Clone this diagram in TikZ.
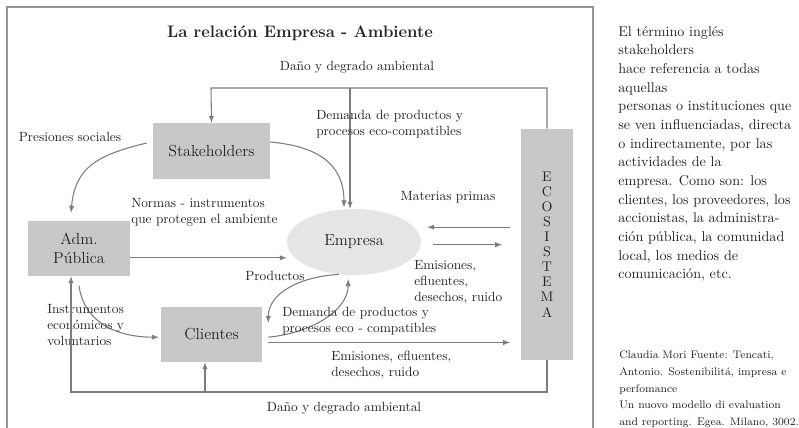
\documentclass[tikz,border=0pt]{standalone}
\usepackage{tikz}
\usetikzlibrary{shapes, arrows, positioning, calc}

\definecolor{boxgray}{RGB}{200,200,200}
\definecolor{ellgray}{RGB}{229,229,229}
\definecolor{linegray}{RGB}{125,125,125}
\definecolor{framegray}{RGB}{150,150,150}
\definecolor{inkgray}{RGB}{35,35,35}

\begin{document}
\begin{tikzpicture}[
    x=0.75pt, y=-0.75pt,
    % Styles
    block/.style={rectangle, fill=boxgray, align=center, minimum width=76.5pt, minimum height=41.25pt, inner sep=0pt, text=inkgray, font={\fontsize{12}{14}\selectfont}},
    core/.style={ellipse, fill=ellgray, minimum width=100.5pt, minimum height=49.5pt, inner sep=0pt, text=inkgray, font={\fontsize{12}{14}\selectfont}},
    wire/.style={->, >=latex, draw=linegray, line width=0.8pt},
    label_text/.style={align=left, text=inkgray, inner sep=0pt, font={\fontsize{10}{12}\selectfont}},
    note_text/.style={align=left, text=inkgray, inner sep=0pt, anchor=north west}
]
    \useasboundingbox (0,0) rectangle (799,428);

    % --- FRAME AND TITLE ---
    \draw[framegray, line width=1.1pt] (7,428) -- (7,7) -- (593,7) -- (593,428);
    \node[text=inkgray, font={\fontsize{12.5}{15}\selectfont\bfseries}] (title) at (300,33) {La relación Empresa - Ambiente};

    % --- BLOCKS ---
    \node[block, minimum width=87.75pt, minimum height=42pt] (stake) at (211.5,151) {Stakeholders};
    \node[block] (adm) at (79,248.5) {Adm.\\Pública};
    \node[block, minimum width=75.75pt] (cli) at (211.5,334.5) {Clientes};
    \node[core] (emp) at (354,242) {Empresa};
    \node[block, minimum width=39pt, minimum height=173.25pt, font={\fontsize{10.5}{11.3}\selectfont}] (eco) at (547,244.5) {E\\C\\O\\S\\I\\S\\T\\E\\M\\A};

    % --- TOP LOOP (Daño y degrado) ---
    \coordinate (topR) at (547,88);
    \coordinate (topL) at (211,88);
    \coordinate (topM) at (350,88);
    \draw[wire] (eco.north) -- (topR) -- (topL) -- (stake.north);
    \draw[wire] (topM) -- (topM |- emp.north);
    \node[label_text] (dano_top) at (357,67) {Daño y degrado ambiental};
    \node[label_text, anchor=west] (dem_top) at (316,124) {Demanda de productos y\\procesos eco-compatibles};

    % --- STAKEHOLDERS ---
    \draw[wire] ([yshift=6.75pt]stake.east) .. controls +(45,4) and +(0,-45) .. ([xshift=-7.5pt,yshift=1pt]emp.north);
    \draw[wire] ([xshift=-4.5pt,yshift=6pt]stake.west) .. controls +(-50,12) and +(4,-45) .. ([xshift=-6pt,yshift=6pt]adm.north);
    \node[label_text] (pres) at (70,137) {Presiones sociales};

    % --- ADM. PUBLICA ---
    \coordinate (admE) at ([yshift=-7pt]adm.east);
    \draw[wire] (admE) -- (admE -| emp.west);
    \node[label_text, anchor=west] (normas) at (131,212) {Normas - instrumentos\\que protegen el ambiente};
    \draw[wire] ([yshift=-7pt]adm.south) .. controls +(5,38) and +(-40,0) .. ([xshift=-1.5pt,yshift=-2pt]cli.west);
    \node[label_text, anchor=west] (instr) at (47,325) {Instrumentos\\económicos y\\voluntarios};

    % --- EMPRESA / CLIENTES ---
    \draw[wire] (emp.-115) .. controls +(-38,2) and +(0,-30) .. ([xshift=4.5pt,yshift=-12pt]cli.north east);
    \node[label_text] (prod) at (275,276) {Productos};
    \draw[wire] ([xshift=4.5pt,yshift=-2pt]cli.east) .. controls +(42,-4) and +(0,32) .. ([yshift=-3pt]emp.-100);
    \node[label_text, anchor=west] (dem_cli) at (282,321) {Demanda de productos y\\procesos eco - compatibles};

    % --- ECOSISTEMA ---
    \coordinate (ecoIn) at ([xshift=-8pt,yshift=13pt]eco.west);
    \coordinate (empIn) at ([xshift=4.5pt]emp.east);
    \draw[wire] (ecoIn) -- (empIn |- ecoIn);
    \node[label_text] (mat) at (448,197) {Materias primas};
    \coordinate (empOut) at ([xshift=9pt,yshift=-2pt]emp.east);
    \coordinate (ecoOut) at ([xshift=-14pt]eco.west);
    \draw[wire] (empOut) -- (ecoOut |- empOut);
    \node[label_text, anchor=west] (emis_emp) at (414,282) {Emisiones,\\efluentes,\\desechos, ruido};
    \coordinate (cliOut) at ([xshift=4.5pt,yshift=-6pt]cli.east);
    \coordinate (ecoCli) at ([xshift=-8pt]eco.west);
    \draw[wire] (cliOut) -- (ecoCli |- cliOut);
    \node[label_text, anchor=west] (emis_cli) at (331,365) {Emisiones, efluentes,\\desechos, ruido};

    % --- BOTTOM LOOP (Daño y degrado) ---
    \coordinate (botR) at (547,392);
    \coordinate (botL) at (71,392);
    \coordinate (botC) at (205,392);
    \draw[wire] (eco.south) -- (botR) -- (botL) -- (botL |- adm.south);
    \draw[wire] (botC) -- (botC |- cli.south);
    \node[label_text] (dano_bot) at (344,408) {Daño y degrado ambiental};

    % --- SIDE NOTES ---
    \node[note_text, font={\fontsize{10.6}{14}\selectfont}] (note) at (618,26) {El término inglés\\stakeholders\\hace referencia a todas\\aquellas\\personas o instituciones que\\se ven influenciadas, directa\\o indirectamente, por las\\actividades de la\\empresa. Como son: los\\clientes, los proveedores, los\\accionistas, la administra-\\ción pública, la comunidad\\local, los medios de\\comunicación, etc.};
    \node[note_text, font={\fontsize{8.2}{12.5}\selectfont}] (cite) at (619,351) {Claudia Mori Fuente: Tencati,\\Antonio. Sostenibilitá, impresa e\\perfomance\\Un nuovo modello di evaluation\\and reporting. Egea. Milano, 3002.};

\end{tikzpicture}
\end{document}
